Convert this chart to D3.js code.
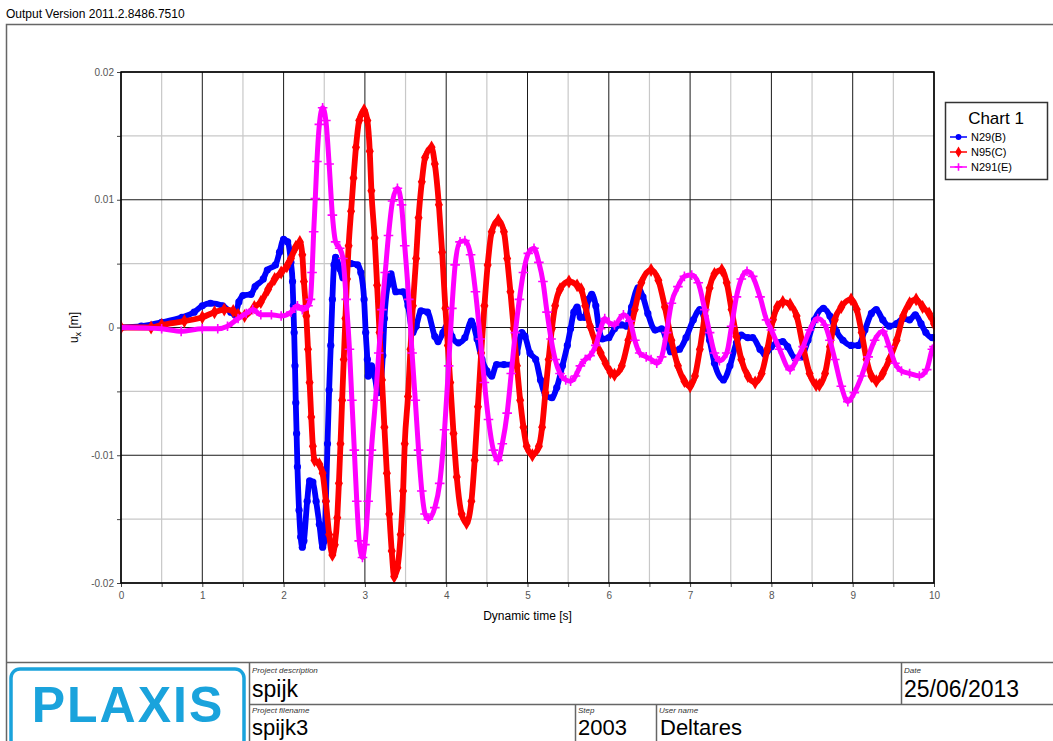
<!DOCTYPE html>
<html><head><meta charset="utf-8">
<script src="https://cdn.jsdelivr.net/npm/d3@7"></script>
<style>body{margin:0;background:#fff}svg{display:block;font-family:"Liberation Sans",Arial,sans-serif}</style>
</head><body><svg id="c" width="1053" height="741"></svg>
<script>
const versionText = "Output Version 2011.2.8486.7510";
const seriesNames = ["N29(B)", "N95(C)", "N291(E)"];
const seriesColors = ["#0000ff", "#ff0000", "#ff00ff"];
const legendTitle = "Chart 1";
const xTicks = [0, 1, 2, 3, 4, 5, 6, 7, 8, 9, 10];
const xMinorTicks = [0.5, 1.5, 2.5, 3.5, 4.5, 5.5, 6.5, 7.5, 8.5, 9.5];
const yTicks = [-0.02, -0.01, 0, 0.01, 0.02];
const yTickLabels = ["-0.02", "-0.01", "0", "0.01", "0.02"];
const yMinorTicks = [-0.015, -0.005, 0.005, 0.015];
const xTitle = "Dynamic time [s]";

// N29(B): [time s, ux m]
const N29_B = [[0,0],[0.25,0.0001],[0.5,0.0004],[0.75,0.0008],[0.9,0.0012],[1.0,0.0017],[1.1,0.0019],[1.25,0.0017],[1.35,0.0012],[1.4,0.001],[1.45,0.002],[1.5,0.0025],[1.6,0.0026],[1.65,0.0032],[1.75,0.0038],[1.8,0.0045],[1.9,0.0049],[1.95,0.0059],[2.0,0.0069],[2.05,0.0067],[2.09,0.0051],[2.11,0.0036],[2.12,0.0017],[2.13,-0.0004],[2.14,-0.003],[2.15,-0.0059],[2.16,-0.0083],[2.17,-0.0109],[2.19,-0.0143],[2.21,-0.0164],[2.23,-0.0172],[2.25,-0.0167],[2.29,-0.0136],[2.32,-0.012],[2.36,-0.0121],[2.4,-0.0136],[2.44,-0.0154],[2.48,-0.0172],[2.5,-0.0167],[2.52,-0.0136],[2.54,-0.0091],[2.56,-0.0049],[2.58,-0.0014],[2.6,0.0022],[2.62,0.0049],[2.64,0.0055],[2.69,0.0046],[2.73,0.0039],[2.77,0.0049],[2.83,0.005],[2.91,0.0049],[2.95,0.0043],[2.99,0.0022],[3.01,-0.0004],[3.03,-0.0025],[3.04,-0.0038],[3.08,-0.003],[3.12,-0.0038],[3.16,-0.0051],[3.19,-0.0046],[3.22,-0.0022],[3.24,0.0007],[3.28,0.0033],[3.32,0.0042],[3.38,0.0028],[3.47,0.0028],[3.53,0.0017],[3.59,-0.0004],[3.63,0.0001],[3.69,0.0013],[3.77,0.0012],[3.86,-0.0007],[3.9,-0.0011],[3.96,-0.0004],[4.02,0.0003],[4.07,-0.0007],[4.15,-0.0012],[4.23,-0.0008],[4.31,0.0005],[4.38,-0.0009],[4.44,-0.0025],[4.5,-0.0034],[4.56,-0.0038],[4.62,-0.0029],[4.71,-0.0029],[4.81,-0.0029],[4.87,-0.002],[4.93,-0.0004],[4.97,-0.0007],[5.03,-0.002],[5.1,-0.0025],[5.16,-0.0041],[5.22,-0.0053],[5.3,-0.0055],[5.36,-0.0047],[5.43,-0.003],[5.49,-0.0014],[5.53,-0.0001],[5.57,0.0012],[5.61,0.0016],[5.65,0.0008],[5.7,0.0008],[5.75,0.0022],[5.79,0.0026],[5.84,0.0017],[5.88,-0.0001],[5.92,-0.0009],[6.0,-0.0008],[6.07,-0.0001],[6.16,0.0002],[6.22,0.0001],[6.28,0.0016],[6.36,0.0031],[6.42,0.0024],[6.48,0.0011],[6.57,-0.0002],[6.65,-0.0001],[6.71,-0.001],[6.76,-0.0019],[6.87,-0.0017],[6.95,-0.0008],[7.04,0.0006],[7.12,0.0014],[7.18,0.0006],[7.24,-0.001],[7.3,-0.0028],[7.41,-0.0041],[7.49,-0.003],[7.57,-0.0012],[7.63,-0.0006],[7.71,-0.0008],[7.77,-0.0008],[7.86,-0.0017],[7.92,-0.0021],[8.0,-0.0015],[8.06,-0.0012],[8.14,-0.0011],[8.2,-0.0015],[8.29,-0.0024],[8.37,-0.0023],[8.45,-0.001],[8.53,0.0006],[8.64,0.0015],[8.72,0.0009],[8.8,-0.0003],[8.88,-0.001],[8.98,-0.0014],[9.07,-0.0014],[9.15,-0.0002],[9.23,0.0011],[9.29,0.0014],[9.37,0.0006],[9.45,0.0001],[9.54,0.0003],[9.62,0.0007],[9.7,0.0006],[9.77,0.001],[9.84,0.0003],[9.9,-0.0004],[9.98,-0.0008],[10.0,-0.0008]];

// N95(C): [time s, ux m]
const N95_C = [[0,0],[0.37,0],[0.5,0.0002],[0.78,0.0005],[1.0,0.0008],[1.15,0.0012],[1.27,0.0014],[1.38,0.0013],[1.44,0.001],[1.52,0.0009],[1.64,0.0016],[1.72,0.002],[1.81,0.003],[1.89,0.0038],[1.97,0.0043],[2.04,0.0048],[2.09,0.0054],[2.15,0.0063],[2.2,0.0067],[2.23,0.0057],[2.25,0.0036],[2.28,0.0009],[2.3,-0.0017],[2.32,-0.0043],[2.34,-0.007],[2.36,-0.0093],[2.38,-0.0104],[2.44,-0.0107],[2.48,-0.0114],[2.52,-0.0136],[2.56,-0.0162],[2.6,-0.0178],[2.63,-0.017],[2.66,-0.0149],[2.68,-0.0122],[2.7,-0.0091],[2.72,-0.0057],[2.74,-0.0025],[2.76,0.0007],[2.78,0.0038],[2.8,0.0064],[2.83,0.0091],[2.86,0.0117],[2.89,0.0141],[2.93,0.0162],[2.99,0.017],[3.03,0.0162],[3.06,0.0138],[3.08,0.0107],[3.12,0.007],[3.15,0.0033],[3.18,-0.0004],[3.21,-0.0041],[3.24,-0.0078],[3.27,-0.0114],[3.3,-0.0146],[3.33,-0.0175],[3.36,-0.0195],[3.4,-0.0188],[3.44,-0.0162],[3.47,-0.0128],[3.49,-0.0091],[3.53,-0.0054],[3.56,-0.0017],[3.59,0.0017],[3.63,0.0054],[3.66,0.0086],[3.7,0.0114],[3.74,0.0133],[3.82,0.0141],[3.86,0.0128],[3.91,0.0096],[3.95,0.0059],[3.99,0.0015],[4.02,-0.0014],[4.05,-0.0043],[4.09,-0.0083],[4.13,-0.0117],[4.19,-0.0146],[4.25,-0.0153],[4.31,-0.0136],[4.35,-0.0104],[4.39,-0.0062],[4.43,-0.002],[4.47,0.0017],[4.51,0.0049],[4.56,0.0075],[4.64,0.0084],[4.71,0.0075],[4.75,0.0054],[4.79,0.0028],[4.83,-0.0001],[4.87,-0.003],[4.91,-0.0057],[4.95,-0.0078],[4.99,-0.0093],[5.06,-0.01],[5.14,-0.0093],[5.18,-0.0078],[5.22,-0.0051],[5.26,-0.0025],[5.3,-0.0001],[5.34,0.0017],[5.4,0.003],[5.51,0.0036],[5.61,0.0033],[5.66,0.003],[5.71,0.0017],[5.77,0.0001],[5.84,-0.0012],[5.9,-0.002],[5.96,-0.0028],[6.02,-0.0035],[6.07,-0.0037],[6.16,-0.003],[6.24,-0.001],[6.32,0.0014],[6.4,0.0035],[6.52,0.0045],[6.61,0.0037],[6.69,0.0016],[6.77,-0.001],[6.85,-0.003],[6.93,-0.0042],[7.0,-0.0046],[7.06,-0.0038],[7.12,-0.0017],[7.18,0.0009],[7.24,0.0031],[7.3,0.0042],[7.39,0.0045],[7.45,0.0035],[7.51,0.0014],[7.57,-0.0007],[7.63,-0.0025],[7.71,-0.0038],[7.8,-0.0043],[7.88,-0.0036],[7.95,-0.0017],[8.02,0.0006],[8.07,0.0016],[8.14,0.002],[8.23,0.0018],[8.31,0.0009],[8.39,-0.0015],[8.47,-0.0036],[8.55,-0.0045],[8.59,-0.0045],[8.66,-0.0036],[8.72,-0.0015],[8.78,0.0006],[8.86,0.0016],[8.98,0.0022],[9.05,0.0014],[9.11,-0.0004],[9.17,-0.0025],[9.23,-0.0038],[9.29,-0.0042],[9.37,-0.0036],[9.45,-0.0025],[9.54,-0.001],[9.62,0.0009],[9.7,0.0019],[9.78,0.0022],[9.86,0.0016],[9.94,0.0011],[10.0,0.0003]];

// N291(E): [time s, ux m]
const N291_E = [[0,0],[0.5,-0.0001],[0.74,-0.0003],[1.0,-0.0001],[1.19,-0.0001],[1.31,0.0001],[1.44,0.0007],[1.54,0.0011],[1.62,0.0014],[1.72,0.001],[1.85,0.001],[1.97,0.0009],[2.09,0.0012],[2.17,0.0017],[2.23,0.0014],[2.3,0.0017],[2.33,0.0022],[2.35,0.0043],[2.37,0.0075],[2.39,0.0101],[2.41,0.013],[2.44,0.0159],[2.48,0.0172],[2.52,0.0162],[2.56,0.0128],[2.6,0.0088],[2.64,0.0067],[2.69,0.0062],[2.73,0.0054],[2.77,0.0022],[2.81,-0.0017],[2.84,-0.0057],[2.87,-0.0096],[2.9,-0.0136],[2.93,-0.0167],[2.97,-0.018],[3.0,-0.017],[3.04,-0.0136],[3.08,-0.0096],[3.13,-0.0057],[3.17,-0.002],[3.21,0.0014],[3.25,0.0043],[3.29,0.0072],[3.34,0.0099],[3.4,0.0109],[3.45,0.0096],[3.49,0.0064],[3.54,0.0022],[3.58,-0.002],[3.62,-0.0057],[3.66,-0.0096],[3.7,-0.0128],[3.74,-0.0146],[3.78,-0.015],[3.86,-0.0141],[3.92,-0.0122],[3.98,-0.008],[4.03,-0.003],[4.07,0.0015],[4.11,0.0049],[4.17,0.0067],[4.23,0.0068],[4.3,0.0057],[4.36,0.0028],[4.42,-0.0009],[4.47,-0.0043],[4.52,-0.0072],[4.58,-0.0096],[4.64,-0.0104],[4.69,-0.0091],[4.75,-0.0067],[4.8,-0.0036],[4.85,-0.0004],[4.9,0.0022],[4.95,0.0043],[5.01,0.0058],[5.08,0.0062],[5.14,0.0051],[5.19,0.0036],[5.24,0.0012],[5.29,-0.0009],[5.34,-0.0025],[5.4,-0.0036],[5.47,-0.0041],[5.53,-0.0042],[5.59,-0.0038],[5.65,-0.003],[5.71,-0.0025],[5.77,-0.0022],[5.84,-0.0014],[5.9,-0.0001],[5.95,0.0007],[6.0,0.0004],[6.07,0.0002],[6.18,0.001],[6.26,0.0005],[6.32,-0.001],[6.38,-0.002],[6.46,-0.0023],[6.52,-0.0025],[6.59,-0.0028],[6.65,-0.0023],[6.71,-0.0004],[6.77,0.0019],[6.85,0.0032],[6.93,0.004],[7.02,0.0041],[7.1,0.0035],[7.18,0.0014],[7.24,-0.0004],[7.3,-0.002],[7.36,-0.0026],[7.45,-0.002],[7.51,0.0001],[7.57,0.0024],[7.63,0.0038],[7.7,0.0044],[7.77,0.004],[7.86,0.0024],[7.94,0.0006],[8.0,-0.0002],[8.1,-0.0017],[8.23,-0.0033],[8.31,-0.0025],[8.39,-0.0015],[8.47,-0.0002],[8.57,0.0007],[8.66,0.0002],[8.72,-0.001],[8.78,-0.0025],[8.86,-0.0046],[8.94,-0.0058],[9.02,-0.0051],[9.11,-0.0038],[9.19,-0.0023],[9.27,-0.001],[9.37,-0.0003],[9.45,-0.0015],[9.52,-0.0028],[9.6,-0.0034],[9.7,-0.0036],[9.82,-0.0038],[9.91,-0.0033],[9.98,-0.0017],[10.0,-0.0015]];

const seriesData = [N29_B, N95_C, N291_E];
const seriesMarkers = ["circle", "diamond", "plus"];

const svg = d3.select("#c");
const X0 = 121, X1 = 934, Y0 = 72, Y1 = 583;
const x = d3.scaleLinear().domain([0, 10]).range([X0, X1]);
const y = d3.scaleLinear().domain([-0.02, 0.02]).range([Y1, Y0]);
const frameCol = "#666";

// header
svg.append("text").attr("x", 6).attr("y", 18).attr("font-size", 12).attr("fill", "#000").text(versionText);

// outer frame
svg.append("rect").attr("x", 6.5).attr("y", 24.5).attr("width", 1060).attr("height", 730)
  .attr("fill", "none").attr("stroke", frameCol).attr("stroke-width", 1.5);

// grid
const g = svg.append("g");
g.selectAll(".gxm").data(xMinorTicks).join("line")
  .attr("x1", d => x(d)).attr("x2", d => x(d)).attr("y1", Y0).attr("y2", Y1)
  .attr("stroke", "#c8c8c8").attr("stroke-width", 1.2);
g.selectAll(".gym").data(yMinorTicks).join("line")
  .attr("y1", d => y(d)).attr("y2", d => y(d)).attr("x1", X0).attr("x2", X1)
  .attr("stroke", "#c8c8c8").attr("stroke-width", 1.2);
g.selectAll(".gx").data(xTicks).join("line")
  .attr("x1", d => x(d)).attr("x2", d => x(d)).attr("y1", Y0).attr("y2", Y1)
  .attr("stroke", "#1a1a1a").attr("stroke-width", 1);
g.selectAll(".gy").data(yTicks).join("line")
  .attr("y1", d => y(d)).attr("y2", d => y(d)).attr("x1", X0).attr("x2", X1)
  .attr("stroke", "#1a1a1a").attr("stroke-width", 1);

// axes
const yAxis = d3.axisLeft(y).tickValues(yTicks.concat(yMinorTicks)).tickSize(4)
  .tickFormat(d => { const i = yTicks.indexOf(d); return i >= 0 ? yTickLabels[i] : ""; });
const ya = svg.append("g").attr("transform", `translate(${X0},0)`).call(yAxis);
const xAxis = d3.axisBottom(x).tickValues(xTicks.concat(xMinorTicks)).tickSize(4)
  .tickFormat(d => xTicks.includes(d) ? String(d) : "");
const xa = svg.append("g").attr("transform", `translate(0,${Y1})`).call(xAxis);
[ya, xa].forEach(a => {
  a.select(".domain").remove();
  a.selectAll(".tick line").attr("stroke", "#444");
  a.selectAll(".tick text").attr("fill", "#555").attr("font-size", 10).attr("font-family", "Liberation Sans, Arial, sans-serif");
});
xa.selectAll(".tick text").attr("dy", "0.9em");

// axis titles
svg.append("text").attr("x", (X0 + X1) / 2).attr("y", 620).attr("text-anchor", "middle")
  .attr("font-size", 12).text(xTitle);
const yt = svg.append("text").attr("transform", `translate(78,${(Y0 + Y1) / 2}) rotate(-90)`)
  .attr("text-anchor", "middle").attr("font-size", 12);
yt.append("tspan").text("u");
yt.append("tspan").attr("font-size", 9).attr("dy", 3).text("x");
yt.append("tspan").attr("dy", -3).text(" [m]");

// clip
svg.append("clipPath").attr("id", "pc").append("rect").attr("x", X0).attr("y", Y0 - 6).attr("width", X1 - X0 + 1).attr("height", Y1 - Y0 + 12);
const plot = svg.append("g").attr("clip-path", "url(#pc)");

const line = d3.line().x(d => x(d[0])).y(d => y(d[1])).curve(d3.curveMonotoneX);

function drawMarker(sel, kind, color, s) {
  if (kind === "circle") {
    sel.append("circle").attr("r", 3.6 * s).attr("fill", color);
  } else if (kind === "diamond") {
    sel.append("path").attr("d", d3.symbol(d3.symbolDiamond, 56 * s * s)()).attr("fill", color);
    sel.append("circle").attr("r", 2.8 * s).attr("fill", color);
  } else {
    const h = 4.8 * s;
    sel.append("path").attr("d", `M${-h},0H${h}M0,${-h}V${h}`).attr("stroke", color).attr("stroke-width", 1.6).attr("fill", "none");
  }
}

seriesData.forEach((data, i) => {
  const col = seriesColors[i];
  const sg = plot.append("g");
  sg.append("path").datum(data).attr("d", line).attr("fill", "none")
    .attr("stroke", col).attr("stroke-width", i === 2 ? 5 : 5.8).attr("stroke-linejoin", "round").attr("stroke-linecap", "round");
  sg.selectAll("g.m").data(data).join("g").attr("class", "m")
    .attr("transform", d => `translate(${x(d[0])},${y(d[1])})`)
    .each(function () { drawMarker(d3.select(this), seriesMarkers[i], col, 1); });
});

// plot border
svg.append("rect").attr("x", X0).attr("y", Y0).attr("width", X1 - X0).attr("height", Y1 - Y0)
  .attr("fill", "none").attr("stroke", "#000").attr("stroke-width", 1.5);

// legend
const lg = svg.append("g");
lg.append("rect").attr("x", 945.5).attr("y", 102.5).attr("width", 102).attr("height", 77)
  .attr("fill", "#fff").attr("stroke", "#333").attr("stroke-width", 1.5);
lg.append("text").attr("x", 996).attr("y", 124).attr("text-anchor", "middle").attr("font-size", 17).text(legendTitle);
seriesNames.forEach((n, i) => {
  const yy = 137 + i * 15;
  lg.append("line").attr("x1", 950).attr("x2", 967).attr("y1", yy).attr("y2", yy).attr("stroke", seriesColors[i]).attr("stroke-width", 1.5);
  const mg = lg.append("g").attr("transform", `translate(958.5,${yy})`);
  drawMarker(mg, seriesMarkers[i], seriesColors[i], 0.8);
  lg.append("text").attr("x", 971).attr("y", yy + 4).attr("font-size", 11).text(n);
});

// title block
const tb = svg.append("g").attr("stroke", frameCol).attr("stroke-width", 1.5);
tb.append("line").attr("x1", 6).attr("x2", 1053).attr("y1", 662.5).attr("y2", 662.5);
tb.append("line").attr("x1", 249.5).attr("x2", 249.5).attr("y1", 662).attr("y2", 741);
tb.append("line").attr("x1", 249).attr("x2", 1053).attr("y1", 704.5).attr("y2", 704.5);
tb.append("line").attr("x1", 901.5).attr("x2", 901.5).attr("y1", 662).attr("y2", 704);
tb.append("line").attr("x1", 575.5).attr("x2", 575.5).attr("y1", 704).attr("y2", 741);
tb.append("line").attr("x1", 656.5).attr("x2", 656.5).attr("y1", 704).attr("y2", 741);

svg.append("rect").attr("x", 11).attr("y", 669).attr("width", 233).attr("height", 80).attr("rx", 9)
  .attr("fill", "none").attr("stroke", "#1aa3dc").attr("stroke-width", 3.5);
svg.append("text").attr("x", 128).attr("y", 722).attr("text-anchor", "middle").attr("font-size", 50)
  .attr("font-weight", "bold").attr("letter-spacing", 2).attr("fill", "#1aa3dc").text("PLAXIS");

const small = [["Project description", 252, 673], ["Project filename", 252, 713], ["Step", 578, 713], ["User name", 659, 713], ["Date", 904, 673]];
small.forEach(s => svg.append("text").attr("x", s[1]).attr("y", s[2]).attr("font-size", 8).attr("font-style", "italic").attr("fill", "#333").text(s[0]));
const big = [["spijk", 252, 697, 23], ["spijk3", 252, 735, 22], ["2003", 578, 735, 22], ["Deltares", 660, 735, 22], ["25/06/2013", 904, 697, 23]];
big.forEach(s => svg.append("text").attr("x", s[1]).attr("y", s[2]).attr("font-size", s[3]).attr("fill", "#000").text(s[0]));
</script></body></html>
